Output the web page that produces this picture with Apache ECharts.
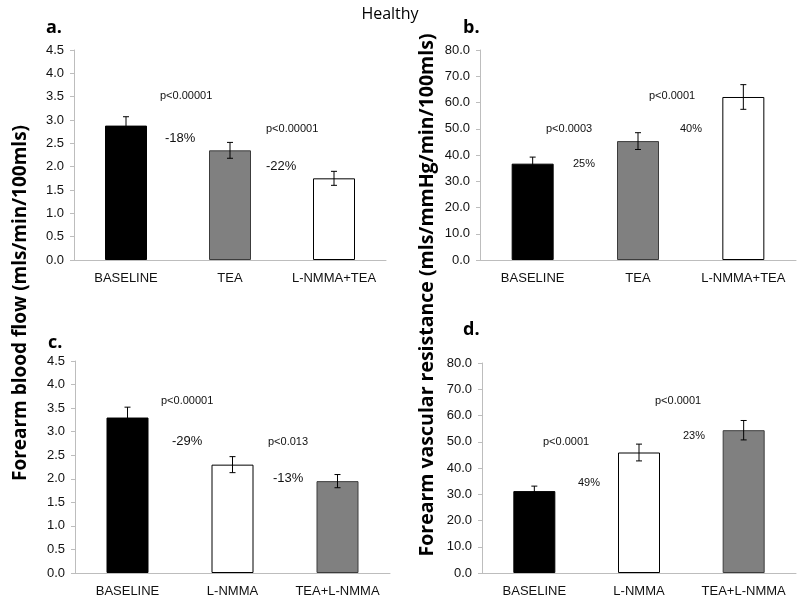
<!DOCTYPE html>
<html><head><meta charset="utf-8">
<script src="https://cdn.jsdelivr.net/npm/echarts@6/dist/echarts.min.js"></script>
<style>html,body{margin:0;padding:0;background:#fff}#c{width:800px;height:599px}</style>
</head><body><div id="c"></div>
<script>
// ---- data ----
const catsAB = ['BASELINE', 'TEA', 'L-NMMA+TEA'];
const catsCD = ['BASELINE', 'L-NMMA', 'TEA+L-NMMA'];
const flowA = [2.88, 2.35, 1.75];
const flowAErr = [0.19, 0.17, 0.15];
const resB = [36.7, 45.3, 62.1];
const resBErr = [2.5, 3.2, 4.7];
const flowC = [3.30, 2.30, 1.95];
const flowCErr = [0.22, 0.17, 0.14];
const resD = [31.2, 45.9, 54.4];
const resDErr = [1.9, 3.2, 3.7];
const flowTicks = {min: 0, max: 4.5, interval: 0.5};
const resTicks = {min: 0, max: 80, interval: 10};
const title = 'Healthy';
const yTitleFlow = 'Forearm blood flow (mls/min/100mls)';
const yTitleRes = 'Forearm vascular resistance (mls/mmHg/min/100mls)';
const panelLetters = ['a.', 'b.', 'c.', 'd.'];
const annotA = ['p<0.00001', '-18%', 'p<0.00001', '-22%'];
const annotB = ['p<0.0003', '25%', 'p<0.0001', '40%'];
const annotC = ['p<0.00001', '-29%', 'p<0.013', '-13%'];
const annotD = ['p<0.0001', '49%', 'p<0.0001', '23%'];

// ---- styles ----
const BLACK = {color: '#000', borderColor: '#000', borderWidth: 1};
const GREY = {color: '#808080', borderColor: '#3c3c3c', borderWidth: 1};
const WHITE = {color: '#fff', borderColor: '#000', borderWidth: 1};
const stylesAB = [BLACK, GREY, WHITE];
const stylesCD = [BLACK, WHITE, GREY];

const grids = [
  {left: 74, top: 50, width: 312, height: 210},
  {left: 480, top: 50, width: 316, height: 210},
  {left: 75, top: 361, width: 315, height: 212},
  {left: 482, top: 363, width: 314, height: 210}
];

const panels = [
  {cats: catsAB, vals: flowA, errs: flowAErr, ticks: flowTicks, styles: stylesAB},
  {cats: catsAB, vals: resB, errs: resBErr, ticks: resTicks, styles: stylesAB},
  {cats: catsCD, vals: flowC, errs: flowCErr, ticks: flowTicks, styles: stylesCD},
  {cats: catsCD, vals: resD, errs: resDErr, ticks: resTicks, styles: stylesCD}
];

const xAxis = [], yAxis = [], series = [];
panels.forEach((p, i) => {
  xAxis.push({
    type: 'category', gridIndex: i, data: p.cats,
    axisLine: {lineStyle: {color: '#bdbdbd', width: 1}},
    axisTick: {show: false},
    axisLabel: {color: '#111', fontFamily: 'Liberation Sans', fontSize: 13, margin: 12, interval: 0}
  });
  yAxis.push({
    type: 'value', gridIndex: i, min: p.ticks.min, max: p.ticks.max, interval: p.ticks.interval,
    splitLine: {show: false},
    axisLine: {show: true, lineStyle: {color: '#bdbdbd', width: 1}},
    axisTick: {show: true, length: 4, lineStyle: {color: '#bdbdbd'}},
    axisLabel: {color: '#111', fontFamily: 'Liberation Sans', fontSize: 13, margin: 10,
      formatter: v => v.toFixed(1)}
  });
  series.push({
    type: 'bar', xAxisIndex: i, yAxisIndex: i, barWidth: 42,
    data: p.vals.map((v, k) => ({value: v, itemStyle: p.styles[k]})),
    animation: false, z: 2
  });
  series.push({
    type: 'custom', xAxisIndex: i, yAxisIndex: i, animation: false, z: 5,
    data: p.vals.map((v, k) => [k, v - p.errs[k], v + p.errs[k]]),
    renderItem: function (params, api) {
      const lo = api.coord([api.value(0), api.value(1)]);
      const hi = api.coord([api.value(0), api.value(2)]);
      const w = 3;
      const st = {stroke: '#000', lineWidth: 1};
      return {type: 'group', children: [
        {type: 'line', shape: {x1: hi[0], y1: hi[1], x2: lo[0], y2: lo[1]}, style: st},
        {type: 'line', shape: {x1: hi[0] - w, y1: hi[1], x2: hi[0] + w, y2: hi[1]}, style: st},
        {type: 'line', shape: {x1: lo[0] - w, y1: lo[1], x2: lo[0] + w, y2: lo[1]}, style: st}
      ]};
    }
  });
});

function txt(t, x, y, size, opts) {
  opts = opts || {};
  return {type: 'text', x: x, y: y, rotation: opts.rot || 0, z: 10,
    style: {text: t, fill: opts.fill || '#111',
      font: (opts.bold ? 'bold ' : '') + size + 'px ' + (opts.family || 'Liberation Sans'),
      align: opts.align || 'left', verticalAlign: 'middle'}};
}

const graphic = [
  txt(title, 390, 14, 16, {family: 'Open Sans', align: 'center', fill: '#000'}),
  txt(yTitleFlow, 21, 303, 19, {family: 'Open Sans', bold: true, align: 'center', rot: Math.PI / 2, fill: '#000'}),
  txt(yTitleRes, 427, 295, 19.5, {family: 'Open Sans', bold: true, align: 'center', rot: Math.PI / 2, fill: '#000'}),
  txt(panelLetters[0], 46, 28, 18, {family: 'Open Sans', bold: true, fill: '#000'}),
  txt(panelLetters[1], 463, 28, 18, {family: 'Open Sans', bold: true, fill: '#000'}),
  txt(panelLetters[2], 48, 343, 18, {family: 'Open Sans', bold: true, fill: '#000'}),
  txt(panelLetters[3], 463, 330, 18, {family: 'Open Sans', bold: true, fill: '#000'}),
  // panel a
  txt(annotA[0], 160, 96, 11), txt(annotA[1], 165, 138, 13),
  txt(annotA[2], 266, 129, 11), txt(annotA[3], 266, 166, 13),
  // panel b
  txt(annotB[0], 546, 129, 11), txt(annotB[1], 573, 164, 11),
  txt(annotB[2], 649, 96, 11), txt(annotB[3], 680, 129, 11),
  // panel c
  txt(annotC[0], 161, 401, 11), txt(annotC[1], 172, 441, 13),
  txt(annotC[2], 268, 442, 11), txt(annotC[3], 273, 478, 13),
  // panel d
  txt(annotD[0], 543, 442, 11), txt(annotD[1], 578, 483, 11),
  txt(annotD[2], 655, 401, 11), txt(annotD[3], 683, 436, 11)
];

const chart = echarts.init(document.getElementById('c'), null, {renderer: 'canvas'});
chart.setOption({
  animation: false,
  backgroundColor: '#fff',
  grid: grids,
  xAxis: xAxis,
  yAxis: yAxis,
  series: series,
  graphic: graphic
});
</script>
</body></html>
